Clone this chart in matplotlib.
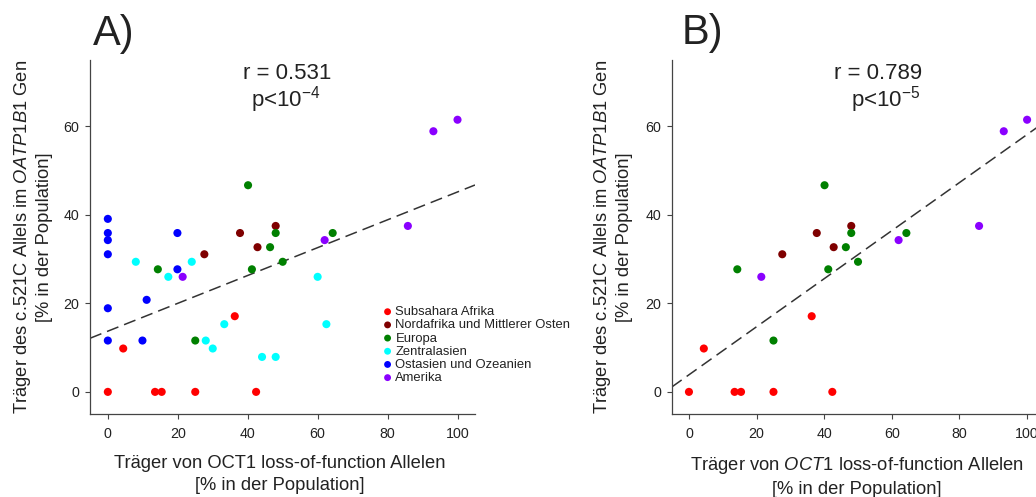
import numpy as np
import matplotlib
matplotlib.use("Agg")
import matplotlib.pyplot as plt

plt.rcParams['font.family'] = ['Liberation Sans', 'DejaVu Sans']
plt.rcParams['mathtext.fontset'] = 'custom'
plt.rcParams['mathtext.rm'] = 'Liberation Sans'
plt.rcParams['mathtext.it'] = 'Liberation Sans:italic'
plt.rcParams['mathtext.bf'] = 'Liberation Sans:bold'

# ---------------- data ----------------
regions = ["Subsahara Afrika", "Nordafrika und Mittlerer Osten", "Europa",
           "Zentralasien", "Ostasien und Ozeanien", "Amerika"]
region_colors = ["#FF0000", "#7F0000", "#008000", "#00FFFF", "#0000FF", "#8A00FF"]

# OCT1 loss-of-function carriers [%] (x) and OATP1B1 c.521C carriers [%] (y)
subsahara_x = [0, 4.4, 13.5, 15.4, 25.0, 36.3, 42.4]
subsahara_y = [0, 9.8, 0, 0, 0, 17.1, 0]
nordafrika_x = [27.6, 37.8, 42.8, 48.0]
nordafrika_y = [31.1, 35.9, 32.7, 37.5]
europa_x = [40.1, 48.0, 46.4, 50.0, 41.2, 64.3, 14.3, 25.0]
europa_y = [46.7, 35.9, 32.7, 29.4, 27.7, 35.9, 27.7, 11.6]
zentralasien_x = [8.0, 17.3, 24.0, 60.0, 33.3, 62.5, 28.0, 30.0, 44.1, 48.0]
zentralasien_y = [29.4, 26.0, 29.4, 26.0, 15.3, 15.3, 11.6, 9.8, 7.9, 7.9]
ostasien_x = [0, 0, 0, 0, 0, 0, 19.9, 19.9, 11.1, 9.9]
ostasien_y = [39.1, 35.9, 34.3, 31.1, 18.9, 11.6, 35.9, 27.7, 20.8, 11.6]
amerika_x = [21.4, 62.0, 85.8, 93.1, 100.0]
amerika_y = [26.0, 34.3, 37.5, 58.9, 61.5]

region_x = [subsahara_x, nordafrika_x, europa_x, zentralasien_x, ostasien_x, amerika_x]
region_y = [subsahara_y, nordafrika_y, europa_y, zentralasien_y, ostasien_y, amerika_y]

# panel B shows only these regions
panel_b_regions = ["Subsahara Afrika", "Nordafrika und Mittlerer Osten", "Europa", "Amerika"]

# regression lines (slope, intercept)
fit_a = (0.3146, 13.72)
fit_b = (0.543, 3.86)

r_text_a, p_exp_a = "r = 0.531", "-4"
r_text_b, p_exp_b = "r = 0.789", "-5"

x_ticks = [0, 20, 40, 60, 80, 100]
y_ticks = [0, 20, 40, 60]

# ---------------- figure ----------------
W, H = 1036, 497
fig = plt.figure(figsize=(W / 100, H / 100), dpi=100)

axA = fig.add_axes([90 / W, (H - 414) / H, 385 / W, 354 / H])
axB = fig.add_axes([671.7 / W, (H - 414) / H, (1044 - 671.7) / W, 354 / H])

spine_col = "#444444"
text_col = "#222222"


def style(ax):
    for s in ["top", "right"]:
        ax.spines[s].set_visible(False)
    for s in ["left", "bottom"]:
        ax.spines[s].set_color(spine_col)
        ax.spines[s].set_linewidth(0.9)
    ax.set_xlim(-5.1, 105)
    ax.set_ylim(-5, 75)
    ax.set_xticks(x_ticks)
    ax.set_yticks(y_ticks)
    ax.tick_params(axis="both", direction="out", length=3.6, width=0.8,
                   color=spine_col, labelcolor=text_col, labelsize=10.3)
    ax.tick_params(axis="x", pad=6.0)
    ax.tick_params(axis="y", pad=4.0)


def draw(ax, include, fit, italic_oct1):
    for name, col, xs, ys in zip(regions, region_colors, region_x, region_y):
        if name not in include:
            continue
        ax.scatter(xs, ys, s=34, color=col, edgecolors="none", label=name, zorder=3)
    m, b = fit
    ax.axline((0, b), slope=m, color="#333333", lw=1.1, dashes=(8, 4), zorder=2)
    style(ax)
    oct1 = r"$\mathit{OCT1}$" if italic_oct1 else "OCT1"
    ax.set_xlabel("Träger von " + oct1 + " loss-of-function Allelen\n[% in der Population]",
                  fontsize=13.2, color=text_col, linespacing=1.42)
    ax.set_ylabel("Träger des c.521C Allels im " + r"$\mathit{OATP1B1}$" + " Gen\n[% in der Population]",
                  fontsize=13.2, color=text_col, linespacing=1.25)


draw(axA, regions, fit_a, False)
draw(axB, panel_b_regions, fit_b, True)

# label positions
axA.xaxis.set_label_coords((279.5 - 90) / 385, (414 - 455) / 354)
axB.xaxis.set_label_coords((857 - 671.7) / 372.3, (414 - 455) / 354)
axA.yaxis.set_label_coords((53 - 90) / 385, 0.5)
axB.yaxis.set_label_coords((633 - 671.7) / 372.3, 0.5)

# correlation texts
axA.text((287 - 90) / 385, (414 - 79) / 354, r_text_a, transform=axA.transAxes,
         ha="center", va="baseline", fontsize=16, color=text_col)
axA.text((285.5 - 90) / 385, (414 - 106.7) / 354, "p<10$^{" + p_exp_a + "}$",
         transform=axA.transAxes, ha="center", va="baseline", fontsize=16, color=text_col)
axB.text((878.3 - 671.7) / 372.3, (414 - 79) / 354, r_text_b, transform=axB.transAxes,
         ha="center", va="baseline", fontsize=16, color=text_col)
axB.text((885.8 - 671.7) / 372.3, (414 - 106.7) / 354, "p<10$^{" + p_exp_b + "}$",
         transform=axB.transAxes, ha="center", va="baseline", fontsize=16, color=text_col)

# panel letters
fig.text(93 / W, 1 - 45 / H, "A)", fontsize=30, color=text_col, ha="left", va="baseline")
fig.text(681.7 / W, 1 - 44.3 / H, "B)", fontsize=30, color=text_col, ha="left", va="baseline")

# legend
leg = axA.legend(loc="upper left", bbox_to_anchor=((383 - 90) / 385, (414 - 306) / 354),
                 frameon=False, fontsize=9.4, markerscale=0.85, handlelength=0.7,
                 handletextpad=0.25, labelspacing=0.08, borderpad=0, borderaxespad=0,
                 scatterpoints=1)
for t in leg.get_texts():
    t.set_color(text_col)

fig.savefig("out.png", dpi=100)
